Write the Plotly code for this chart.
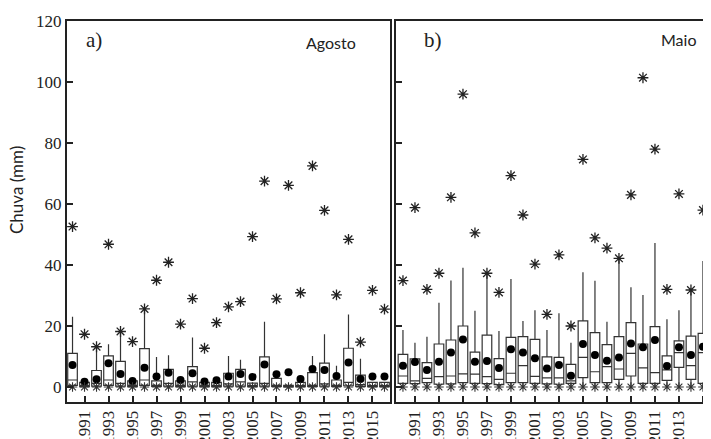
import plotly.graph_objects as go

years = list(range(1990, 2017))
tick_years = list(range(1991, 2016, 2))
tick_labels = [str(y) for y in tick_years]
y_ticks = [0, 20, 40, 60, 80, 100, 120]

# Panel a) Agosto
ago_max = [52.6, 17.3, 13.2, 46.8, 18.2, 14.9, 25.6, 35.0, 40.9, 20.6, 29.0, 12.7, 21.1, 26.3,
           28.0, 49.3, 67.5, 28.9, 66.1, 30.9, 72.5, 57.9, 30.2, 48.4, 14.7, 31.7, 25.5]
ago_whisk = [23.0, 1.5, 13.2, 14.0, 17.8, 2.0, 25.5, 9.8, 10.4, 2.0, 16.2, 1.5, 1.5, 10.2,
             8.9, 1.3, 21.4, 2.8, 0.5, 1.5, 10.2, 17.3, 7.0, 23.8, 9.3, 1.5, 1.5]
ago_q3 = [11.0, 1.5, 5.4, 10.2, 8.4, 2.0, 12.6, 2.0, 5.8, 2.0, 6.7, 1.5, 1.5, 4.5,
          5.8, 1.3, 9.9, 2.8, 0.5, 1.5, 4.7, 7.8, 2.3, 12.7, 3.9, 1.5, 1.5]
ago_med = [2.3, 0.3, 1.2, 2.3, 1.2, 0.5, 2.3, 0.5, 1.2, 0.5, 1.7, 0.3, 0.3, 1.0,
           1.7, 0.3, 1.2, 0.5, 0.1, 0.3, 0.5, 1.0, 0.5, 1.5, 0.8, 0.3, 0.3]
ago_q1 = [0.5, 0.1, 0.3, 0.5, 0.3, 0.1, 0.5, 0.2, 0.3, 0.1, 0.3, 0.1, 0.1, 0.3,
          0.3, 0.1, 0.3, 0.2, 0.0, 0.1, 0.2, 0.3, 0.2, 0.4, 0.2, 0.1, 0.1]
ago_mean = [7.2, 1.7, 2.5, 7.8, 4.3, 2.0, 6.3, 3.4, 4.7, 2.3, 4.5, 1.8, 2.2, 3.4,
            4.3, 3.3, 7.4, 4.2, 4.8, 2.6, 5.9, 5.6, 3.6, 8.0, 2.6, 3.4, 3.4]
ago_min = [0.0] * 27

# Panel b) Maio
mai_max = [34.9, 58.8, 32.0, 37.3, 62.2, 96.0, 50.5, 37.3, 31.0, 69.3, 56.4, 40.3, 23.8, 43.3,
           20.0, 74.6, 48.9, 45.5, 42.2, 63.0, 101.4, 78.0, 32.0, 63.3, 31.8, 58.0, 75.7]
mai_whisk = [18.7, 14.5, 16.5, 27.6, 34.9, 39.1, 25.0, 37.0, 18.4, 35.4, 21.6, 25.2, 18.7, 24.2,
             14.5, 37.6, 34.8, 21.4, 42.0, 32.7, 30.2, 47.2, 22.2, 25.2, 31.8, 41.3, 30.0]
mai_q3 = [10.7, 9.2, 8.0, 14.1, 15.4, 20.0, 11.4, 17.0, 9.3, 16.3, 16.5, 15.6, 9.9, 9.7,
          7.4, 21.7, 17.8, 13.9, 16.5, 21.1, 14.1, 19.8, 10.2, 15.1, 16.7, 17.6, 10.0]
mai_med = [3.6, 2.0, 2.8, 3.4, 3.6, 4.3, 4.2, 3.4, 2.5, 4.5, 7.0, 3.5, 3.0, 3.0,
           2.0, 9.7, 5.0, 6.7, 5.9, 11.0, 6.3, 4.7, 5.6, 11.3, 7.0, 11.3, 4.0]
mai_q1 = [1.2, 1.1, 1.4, 0.9, 1.0, 1.4, 1.2, 1.1, 0.8, 1.4, 1.4, 1.2, 1.0, 0.9,
          1.2, 3.1, 1.4, 1.4, 2.5, 3.6, 1.2, 1.2, 2.2, 6.4, 2.5, 1.2, 1.0]
mai_mean = [7.0, 8.2, 5.6, 8.3, 11.3, 15.6, 8.3, 8.5, 6.2, 12.4, 11.3, 9.4, 6.1, 7.2,
            3.7, 14.1, 10.5, 8.6, 9.7, 14.3, 13.0, 15.4, 6.9, 13.0, 10.5, 13.2, 7.0]
mai_min = [0.0] * 27

fig = go.Figure()

def add_panel(xa, ya, q1, med, q3, whisk, mean, mx, mn):
    fig.add_trace(go.Box(
        x=years, q1=q1, median=med, q3=q3, lowerfence=mn, upperfence=whisk,
        xaxis=xa, yaxis=ya, boxpoints=False, whiskerwidth=0, width=0.8,
        fillcolor="white", line=dict(color="#333333", width=1.2), showlegend=False,
        hoverinfo="skip"))
    fig.add_trace(go.Scatter(
        x=years, y=mean, mode="markers", xaxis=xa, yaxis=ya, showlegend=False,
        marker=dict(symbol="circle", size=8, color="black")))
    fig.add_trace(go.Scatter(
        x=years, y=mx, mode="markers", xaxis=xa, yaxis=ya, showlegend=False,
        marker=dict(symbol="asterisk-open", size=9, color="#222",
                    line=dict(color="#222", width=1.3))))
    fig.add_trace(go.Scatter(
        x=years, y=mn, mode="markers", xaxis=xa, yaxis=ya, showlegend=False,
        marker=dict(symbol="asterisk-open", size=8, color="#333",
                    line=dict(color="#333", width=1.1))))

add_panel("x", "y", ago_q1, ago_med, ago_q3, ago_whisk, ago_mean, ago_max, ago_min)
add_panel("x2", "y2", mai_q1, mai_med, mai_q3, mai_whisk, mai_mean, mai_max, mai_min)

# page body has an 8px margin; figure coordinates = screen - 8
OFF = 8
W, H = 711 - OFF, 439 - OFF

def px(x):
    return (x - OFF) / W

def py(y):
    return 1 - (y - OFF) / H

ydom = [py(402), py(21)]
serif = dict(family="Liberation Serif", size=17, color="#222")
common_x = dict(tickvals=tick_years, ticktext=tick_labels, tickangle=-90, ticks="inside",
                ticklen=6, tickwidth=2, tickcolor="#222", showline=True, linewidth=2,
                linecolor="#222", mirror=True, showgrid=False, zeroline=False, tickfont=serif,
                automargin=False)
common_y = dict(range=[-4.92, 120], tickvals=y_ticks, ticks="inside", ticklen=6, tickwidth=2,
                tickcolor="#222", showline=True, linewidth=2, linecolor="#222",
                showgrid=False, zeroline=False, tickfont=serif, domain=ydom, automargin=False)

def note(text, x, y, family, size, angle=0):
    return dict(text=text, x=px(x), y=py(y), xref="paper", yref="paper", showarrow=False,
                xanchor="center", yanchor="middle", textangle=angle,
                font=dict(family=family, size=size, color="#222"))

fig.update_layout(
    width=W, height=H, margin=dict(l=0, r=0, t=0, b=0, autoexpand=False),
    paper_bgcolor="white", plot_bgcolor="white",
    xaxis=dict(domain=[px(67), px(390)], range=[1989.54, 2016.46], anchor="y", **common_x),
    yaxis=dict(anchor="x", mirror=True, **common_y),
    xaxis2=dict(domain=[px(396), 1.0], range=[1989.42, 2015.67], anchor="y2", **common_x),
    yaxis2=dict(anchor="x2", mirror=False, showticklabels=False, **common_y),
    annotations=[
        note("a)", 94, 40, "Liberation Serif", 21),
        note("b)", 433, 40, "Liberation Serif", 21),
        note("Agosto", 331, 42, "Lato", 16),
        note("Maio", 678, 39, "Lato", 16),
        note("Chuva (mm)", 17, 190, "Lato", 17, -90),
    ],
)

fig.write_html("out.html")
